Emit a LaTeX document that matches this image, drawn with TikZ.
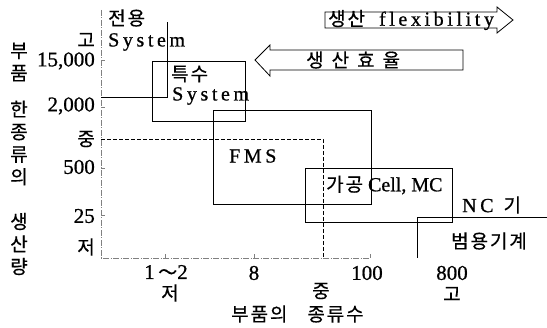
\documentclass[tikz,border=0pt]{standalone}
\usepackage{fontspec}
\setmainfont{Liberation Serif}[FakeBold=0.8]
\newfontfamily\kr{Noto Sans CJK KR}[LetterSpace=10,FakeBold=0.5]
\newfontfamily\krwide{Noto Sans CJK KR}[LetterSpace=42,FakeBold=0.5]
\newfontfamily\lat{Liberation Serif}[LetterSpace=18,FakeBold=0.8]
\newcommand\kotext[1]{{\kr\fontsize{19}{21}\selectfont #1}}
\usetikzlibrary{arrows.meta,positioning}
\tikzset{
  axisline/.style={gray, line width=0.6pt, dash pattern=on 6pt off 1.5pt on 1pt off 1.5pt},
  zone/.style={draw, line width=0.8pt},
  midline/.style={line width=0.7pt, dash pattern=on 4pt off 2pt},
  blockarrow/.style={draw, line width=0.8pt, fill=white},
  txt/.style={inner sep=0pt, anchor=west, font=\fontsize{20}{22}\selectfont},
  krtxt/.style={inner sep=0pt, anchor=west, font=\kr\fontsize{19}{21}\selectfont},
  ticklab/.style={inner sep=0pt, anchor=east, font=\fontsize{21}{23}\selectfont},
  krtick/.style={inner sep=0pt, anchor=east, font=\kr\fontsize{19}{21}\selectfont},
  xlab/.style={inner sep=0pt, font=\fontsize{21}{23}\selectfont},
  krxlab/.style={inner sep=0pt, font=\kr\fontsize{19}{21}\selectfont},
  vlab/.style={inner sep=0pt, align=center, font=\kr\fontsize{19}{22.5}\selectfont}
}
\begin{document}
\begin{tikzpicture}[x=1pt,y=-1pt]
  \useasboundingbox (0,0) rectangle (547,328);
  % axes
  \coordinate (top) at (101,10);
  \coordinate (origin) at (101,258);
  \coordinate (xend) at (370,258);
  \draw[axisline] (top) -- (origin) -- (xend);
  \foreach \ty in {60,107,168,215} \draw[gray, line width=0.6pt] (101,\ty) -- (105,\ty);
  \foreach \tx in {165,254,370} \draw[gray, line width=0.6pt] (\tx,258) -- (\tx,254);
  % y axis labels
  \node[krtick] (yhigh) at (95,40) {고};
  \node[ticklab] (y15000) at (95,61) {15,000};
  \node[ticklab] (y2000) at (95,106) {2,000};
  \node[krtick] (ymid) at (95,139) {중};
  \node[ticklab] (y500) at (95,167) {500};
  \node[ticklab] (y25) at (95,216) {25};
  \node[krtick] (ylow) at (95,247) {저};
  \node[vlab] (qty1) at (19,62) {부\\품};
  \node[vlab] (qty2) at (19,143) {한\\종\\류\\의};
  \node[vlab] (qty3) at (19,244) {생\\산\\량};
  % x axis labels
  \node[xlab] (x12) at (166,272) {1\,\kotext{～}2};
  \node[krxlab] (xlow) at (170,293) {저};
  \node[xlab] (x8) at (254,273) {8};
  \node[xlab] (x100) at (367,273) {100};
  \node[xlab] (x800) at (452,273) {800};
  \node[krxlab] (xmid) at (321,291) {중};
  \node[krxlab] (xhigh) at (452,294) {고};
  \node[krtxt] (kinds) at (231,314) {부품의\hspace{20pt}종류수};
  % regions
  \draw[zone] (101,97) -- (167,97) -- (167,22);
  \node[krtxt] (dedi) at (108,18) {전용};
  \node[txt] (dedisys) at (108,42) {\lat System};
  \draw[zone] (152,61) rectangle (245,121);
  \node[krtxt] (spec) at (171,74) {특수};
  \node[txt] (specsys) at (172,96) {\lat System};
  \draw[zone] (213,110) rectangle (371,204);
  \node[txt] (fms) at (229,156) {\lat FMS};
  \draw[midline] (101,139) -- (323,139) -- (323,258);
  \draw[zone] (305,168) rectangle (452,222);
  \node[txt] (cell) at (326,185) {\kotext{가공}\hspace{5pt}Cell, MC};
  \draw[zone] (547,217) -- (417,217) -- (417,258);
  \node[txt] (nc) at (462,205) {\lat NC\hspace{10pt}\kotext{기}};
  \node[krtxt] (general) at (451,241) {범용기계};
  % block arrows
  \draw[blockarrow] (325,12) -- (497,12) -- (497,7) -- (513,20) -- (497,33) -- (497,28) -- (325,28) -- cycle;
  \node[txt] (flex) at (328,20) {\kotext{생산}\hspace{14pt}{\lat flexibility}};
  \draw[blockarrow] (463,50) -- (270,50) -- (270,45) -- (255,60) -- (270,76) -- (270,70) -- (463,70) -- cycle;
  \node[krtxt, font=\krwide\fontsize{19}{21}\selectfont] (effic) at (306,60) {생산효율};
\end{tikzpicture}
\end{document}
